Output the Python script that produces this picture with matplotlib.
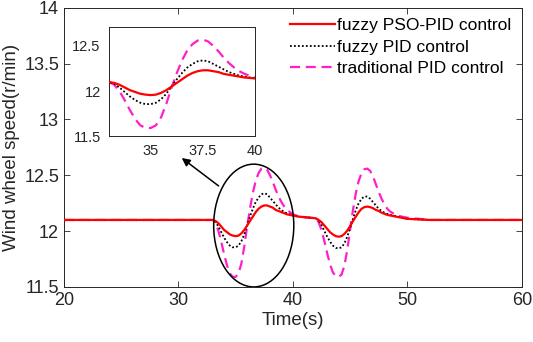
import matplotlib
matplotlib.use("Agg")
import matplotlib.pyplot as plt
from matplotlib.patches import Ellipse

plt.rcParams['font.family'] = ['Liberation Sans', 'DejaVu Sans']

# ---- data ----
time = [20.0, 30.0, 33.0,
        33.25, 33.5, 33.75, 34.0, 34.25, 34.5, 34.75, 35.0, 35.25, 35.5, 35.75, 36.0,
        36.25, 36.5, 36.75, 37.0, 37.25, 37.5, 37.75, 38.0, 38.25, 38.5, 38.75, 39.0,
        39.25, 39.5, 39.75, 40.0,
        40.5, 41.0, 41.5,
        42.0, 42.25, 42.5, 42.75, 43.0, 43.25, 43.5, 43.75, 44.0, 44.25, 44.5, 44.75,
        45.0, 45.25, 45.5, 45.75, 46.0, 46.25, 46.5, 46.75, 47.0, 47.25, 47.5, 47.75,
        48.0, 48.25, 48.5, 48.75, 49.0,
        49.5, 50.0, 51.0, 52.0, 55.0, 60.0]

fuzzy_pso_pid = [12.10, 12.10, 12.10,
                 12.09, 12.07, 12.04, 12.01, 11.99, 11.97, 11.96, 11.955, 11.96, 11.98, 12.01, 12.05,
                 12.09, 12.13, 12.17, 12.20, 12.22, 12.23, 12.23, 12.22, 12.21, 12.19, 12.18, 12.17,
                 12.16, 12.15, 12.145, 12.14,
                 12.13, 12.125, 12.12,
                 12.115, 12.10, 12.08, 12.05, 12.02, 11.99, 11.97, 11.955, 11.95, 11.955, 11.975, 12.005,
                 12.045, 12.09, 12.13, 12.17, 12.20, 12.215, 12.22, 12.215, 12.205, 12.19, 12.18, 12.165,
                 12.155, 12.145, 12.14, 12.135, 12.13,
                 12.12, 12.11, 12.105, 12.10, 12.10, 12.10]

fuzzy_pid = [12.10, 12.10, 12.10,
             12.08, 12.04, 11.99, 11.94, 11.90, 11.87, 11.855, 11.855, 11.87, 11.91, 11.97, 12.05,
             12.13, 12.20, 12.26, 12.30, 12.33, 12.34, 12.33, 12.30, 12.27, 12.24, 12.21, 12.19,
             12.17, 12.16, 12.15, 12.14,
             12.13, 12.125, 12.12,
             12.115, 12.095, 12.055, 12.00, 11.95, 11.905, 11.87, 11.85, 11.845, 11.855, 11.89, 11.95,
             12.03, 12.11, 12.19, 12.25, 12.29, 12.31, 12.31, 12.29, 12.26, 12.23, 12.20, 12.18,
             12.165, 12.155, 12.145, 12.14, 12.135,
             12.12, 12.11, 12.105, 12.10, 12.10, 12.10]

traditional_pid = [12.10, 12.10, 12.10,
                   12.07, 12.00, 11.90, 11.79, 11.69, 11.62, 11.59, 11.59, 11.62, 11.71, 11.86, 12.04,
                   12.20, 12.34, 12.45, 12.52, 12.56, 12.57, 12.55, 12.50, 12.44, 12.37, 12.31, 12.26,
                   12.22, 12.19, 12.17, 12.15,
                   12.135, 12.125, 12.12,
                   12.115, 12.08, 12.01, 11.91, 11.80, 11.70, 11.63, 11.595, 11.59, 11.61, 11.69, 11.83,
                   12.01, 12.19, 12.34, 12.45, 12.52, 12.555, 12.56, 12.54, 12.49, 12.42, 12.35, 12.29,
                   12.24, 12.20, 12.175, 12.16, 12.145,
                   12.13, 12.12, 12.11, 12.10, 12.10, 12.10]

series_labels = ['fuzzy PSO-PID control', 'fuzzy PID control', 'traditional PID control']
x_ticks = [20, 30, 40, 50, 60]
y_ticks = [11.5, 12, 12.5, 13, 13.5, 14]
y_tick_labels = ['11.5', '12', '12.5', '13', '13.5', '14']
inset_x_ticks = [35, 37.5, 40]
inset_x_labels = ['35', '37.5', '40']
inset_y_ticks = [11.5, 12, 12.5]
inset_y_labels = ['11.5', '12', '12.5']

RED = '#FF0000'
BLK = '#000000'
MAG = '#FF1FC8'
AX_COL = '#262626'
DOT = (0, (1, 1.2))
DASH = (0, (4.5, 2.6))

fig = plt.figure(figsize=(5.33, 3.42), dpi=100)
ax = fig.add_axes([0.120, 0.161, 0.859, 0.816])

ax.plot(time, fuzzy_pso_pid, color=RED, lw=1.6, label=series_labels[0], zorder=4)
ax.plot(time, fuzzy_pid, color=BLK, lw=1.3, ls=DOT, label=series_labels[1], zorder=3)
ax.plot(time, traditional_pid, color=MAG, lw=1.6, ls=DASH, label=series_labels[2], zorder=2)

ax.set_xlim(20, 60)
ax.set_ylim(11.5, 14)
ax.set_xticks(x_ticks)
ax.set_yticks(y_ticks)
ax.set_xticklabels([str(v) for v in x_ticks])
ax.set_yticklabels(y_tick_labels)
ax.tick_params(direction='in', top=True, right=True, labelsize=13, colors=AX_COL, length=4, width=0.6)
for s in ax.spines.values():
    s.set_color(AX_COL)
    s.set_linewidth(0.7)
ax.set_xlabel('Time(s)', fontsize=13.5, color=AX_COL, labelpad=2)
ax.set_ylabel('Wind wheel speed(r/min)', fontsize=13.5, color=AX_COL, labelpad=3)

leg = ax.legend(loc='upper right', frameon=False, fontsize=12.5, handlelength=2.6,
                handletextpad=0.1, labelspacing=0.35, borderaxespad=0.2,
                bbox_to_anchor=(1.0, 1.0))
for t in leg.get_texts():
    t.set_color('#000000')

# ellipse and arrow
ax.add_patch(Ellipse((36.58, 12.05), 7.0, 1.1, fill=False, edgecolor='black', lw=1.1, zorder=5))
ax.annotate('', xy=(30.1, 12.67), xytext=(33.7, 12.39),
            arrowprops=dict(arrowstyle='-|>', color='black', lw=1.1, mutation_scale=12), zorder=5)

# inset
ins = fig.add_axes([0.2045, 0.602, 0.274, 0.319])
ins.plot(time, fuzzy_pso_pid, color=RED, lw=1.6, zorder=4)
ins.plot(time, fuzzy_pid, color=BLK, lw=1.3, ls=DOT, zorder=3)
ins.plot(time, traditional_pid, color=MAG, lw=1.6, ls=DASH, zorder=2)
ins.set_xlim(33, 40)
ins.set_ylim(11.5, 12.71)
ins.set_xticks(inset_x_ticks)
ins.set_yticks(inset_y_ticks)
ins.set_xticklabels(inset_x_labels)
ins.set_yticklabels(inset_y_labels)
ins.tick_params(direction='in', labelsize=10.5, colors=AX_COL, length=0, width=0.6, pad=6)
for s in ins.spines.values():
    s.set_color(AX_COL)
    s.set_linewidth(0.7)

fig.savefig('out.png', dpi=100)
